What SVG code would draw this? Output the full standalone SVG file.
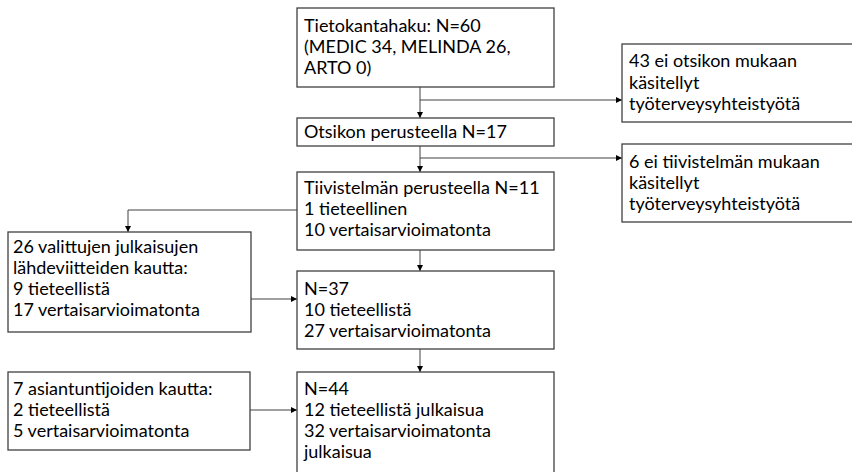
<svg xmlns="http://www.w3.org/2000/svg" width="852" height="472" viewBox="0 0 852 472">
<style>
.box{fill:#ffffff;stroke:#404040;stroke-width:1.3}
.t{font-family:Lato,"Open Sans","Liberation Sans",sans-serif;font-size:18px;fill:#000000}
.c{fill:none;stroke:#404040;stroke-width:1}
</style>
<defs>
<marker id="ah" markerWidth="6" markerHeight="6" refX="6" refY="3" orient="auto" markerUnits="userSpaceOnUse">
<path d="M0,0 L6,3 L0,6 Z" fill="#000000"/>
</marker>
</defs>
<rect width="852" height="472" fill="#ffffff"/>
<g id="connectors">
<line class="c" x1="420" y1="87" x2="420" y2="118" marker-end="url(#ah)"/>
<line class="c" x1="420" y1="100" x2="622" y2="100" marker-end="url(#ah)"/>
<line class="c" x1="420" y1="146" x2="420" y2="172" marker-end="url(#ah)"/>
<line class="c" x1="420" y1="158" x2="622" y2="158" marker-end="url(#ah)"/>
<polyline class="c" points="297,210 128,210 128,232" marker-end="url(#ah)"/>
<line class="c" x1="420" y1="250" x2="420" y2="271" marker-end="url(#ah)"/>
<line class="c" x1="251" y1="299" x2="297" y2="299" marker-end="url(#ah)"/>
<line class="c" x1="420" y1="349" x2="420" y2="372" marker-end="url(#ah)"/>
<line class="c" x1="250" y1="410" x2="297" y2="410" marker-end="url(#ah)"/>
</g>
<g id="n1">
<rect class="box" x="297" y="8" width="257" height="79"/>
<text class="t" x="304" y="32">Tietokantahaku: N=60</text>
<text class="t" x="304" y="53">(MEDIC 34, MELINDA 26,</text>
<text class="t" x="304" y="74">ARTO 0)</text>
</g>
<g id="n2">
<rect class="box" x="297" y="118" width="257" height="28"/>
<text class="t" x="304" y="138">Otsikon perusteella N=17</text>
</g>
<g id="n3">
<rect class="box" x="297" y="172" width="257" height="78"/>
<text class="t" x="304" y="194">Tiivistelmän perusteella N=11</text>
<text class="t" x="304" y="215">1 tieteellinen</text>
<text class="t" x="304" y="236">10 vertaisarvioimatonta</text>
</g>
<g id="n4">
<rect class="box" x="297" y="271" width="257" height="78"/>
<text class="t" x="304" y="295">N=37</text>
<text class="t" x="304" y="316">10 tieteellistä</text>
<text class="t" x="304" y="337">27 vertaisarvioimatonta</text>
</g>
<g id="n5">
<rect class="box" x="297" y="372" width="257" height="104"/>
<text class="t" x="304" y="395">N=44</text>
<text class="t" x="304" y="416">12 tieteellistä julkaisua</text>
<text class="t" x="304" y="437">32 vertaisarvioimatonta</text>
<text class="t" x="304" y="458">julkaisua</text>
</g>
<g id="r1">
<rect class="box" x="622" y="44" width="240" height="78"/>
<text class="t" x="629" y="67">43 ei otsikon mukaan</text>
<text class="t" x="629" y="89">käsitellyt</text>
<text class="t" x="629" y="110">työterveysyhteistyötä</text>
</g>
<g id="r2">
<rect class="box" x="622" y="144" width="240" height="78"/>
<text class="t" x="629" y="168">6 ei tiivistelmän mukaan</text>
<text class="t" x="629" y="189">käsitellyt</text>
<text class="t" x="629" y="210">työterveysyhteistyötä</text>
</g>
<g id="l1">
<rect class="box" x="8" y="232" width="243" height="100"/>
<text class="t" x="13" y="253">26 valittujen julkaisujen</text>
<text class="t" x="13" y="274">lähdeviitteiden kautta:</text>
<text class="t" x="13" y="295">9 tieteellistä</text>
<text class="t" x="13" y="316">17 vertaisarvioimatonta</text>
</g>
<g id="l2">
<rect class="box" x="8" y="372" width="242" height="78"/>
<text class="t" x="13" y="395">7 asiantuntijoiden kautta:</text>
<text class="t" x="13" y="416">2 tieteellistä</text>
<text class="t" x="13" y="437">5 vertaisarvioimatonta</text>
</g>
</svg>
